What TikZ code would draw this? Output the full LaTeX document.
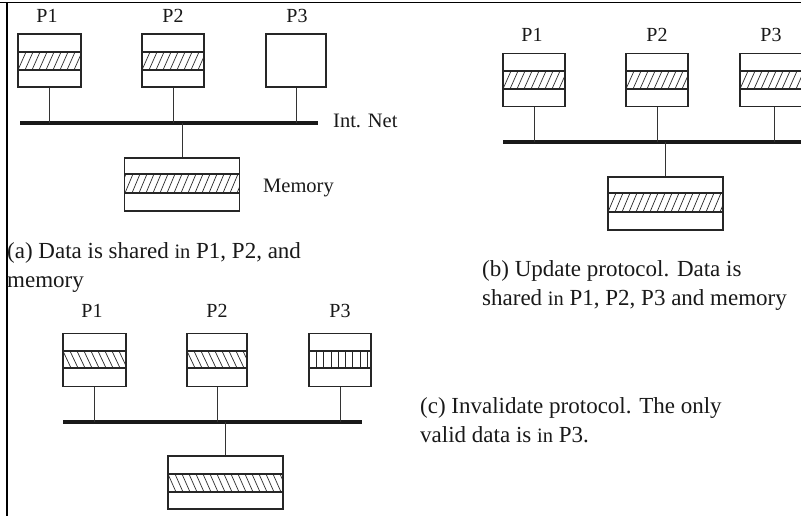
\documentclass[tikz,border=0pt]{standalone}
\usepackage{fontspec}
\setmainfont{Liberation Serif}
\newcommand\smallin{{\fontsize{20.5}{20.5}\selectfont in}}
\newcommand\hbNE[4]{% xl xr yt yb
  \begin{scope}
    \clip (#1,#3) rectangle (#2,#4);
    \foreach \k in {-14,-7,...,130} \draw[hatch] ({#1+\k},#4) -- ++(8,{-(#4-#3)});
  \end{scope}
  \draw[boxline] (#1,#3) -- (#2,#3) (#1,#4) -- (#2,#4);}
\newcommand\hbNW[4]{% xl xr yt yb
  \begin{scope}
    \clip (#1,#3) rectangle (#2,#4);
    \foreach \k in {-14,-7,...,130} \draw[hatch] ({#1+\k},#3) -- ++(8,{#4-#3});
  \end{scope}
  \draw[boxline] (#1,#3) -- (#2,#3) (#1,#4) -- (#2,#4);}
\newcommand\hbV[4]{% xl xr yt yb
  \begin{scope}
    \clip (#1,#3) rectangle (#2,#4);
    \foreach \k in {7.3,14.6,...,70} \draw[hatch] ({#1+\k},#3) -- ({#1+\k},#4);
  \end{scope}
  \draw[boxline] (#1,#3) -- (#2,#3) (#1,#4) -- (#2,#4);}
\tikzset{
  boxline/.style={draw=black!85, line width=1.2pt},
  pbox/.style={boxline, rectangle, inner sep=0pt, minimum width=62pt, minimum height=53pt},
  mbox/.style={boxline, rectangle, inner sep=0pt, minimum width=115pt, minimum height=53pt},
  hatch/.style={draw=black!85, line width=0.7pt},
  conn/.style={draw=black!80, line width=1pt},
  bus/.style={draw=black!90, line width=4pt},
  frame/.style={draw=black, line width=1.5pt},
  lbl/.style={anchor=base, inner sep=0pt, font=\fontsize{20}{24}\selectfont, text=black!90},
  captxt/.style={anchor=base west, inner sep=0pt, align=left, font=\fontsize{23}{29}\selectfont, text=black!90}
}
\begin{document}
\begin{tikzpicture}[x=1pt, y=-1pt]
\useasboundingbox (0,0) rectangle (801,516);
% frame lines
\coordinate (fTL) at (7,2.5);
\coordinate (fTR) at (801,2.5);
\coordinate (fT0) at (0,2.5);
\coordinate (fBL) at (7,516);
\draw[frame] (fT0) -- (fTR);
\draw[frame] (fTL) -- (fBL);

% ---------- (a) ----------
\node[pbox, minimum width=63pt] (aP1) at (49.5,60.5) {};
\node[pbox] (aP2) at (173,60.5) {};
\node[pbox, minimum width=60pt, line width=1.8pt] (aP3) at (296,60.5) {};
\hbNE{18}{81}{52}{70}
\hbNE{142}{204}{52}{70}
\node[lbl] (aL1) at (47,23) {P1};
\node[lbl] (aL2) at (173,23) {P2};
\node[lbl] (aL3) at (297,23) {P3};
\coordinate (aBusW) at (20,123);
\coordinate (aBusE) at (318,123);
\draw[bus] (aBusW) -- (aBusE);
\node[mbox] (aMem) at (182,184.5) {};
\hbNE{125}{239}{174}{193}
\draw[conn] (aP1.south) -- (aP1.south |- aBusW);
\draw[conn] (aP2.south) -- (aP2.south |- aBusW);
\draw[conn] (aP3.south) -- (aP3.south |- aBusW);
\draw[conn] (aMem.north) -- (aMem.north |- aBusW);
\node[anchor=base west, inner sep=0pt, font=\fontsize{20.5}{24}\selectfont, text=black!90] (aNet) at (333,128) {Int. Net};
\node[anchor=base west, inner sep=0pt, font=\fontsize{20.5}{24}\selectfont, text=black!90] (aMemL) at (263,193) {Memory};
\node[captxt] (capA) at (7,287) {(a) Data is shared \smallin{} P1, P2, and\\memory};

% ---------- (b) ----------
\node[pbox] (bP1) at (534,80) {};
\node[pbox] (bP2) at (657,80) {};
\node[pbox, minimum width=68pt] (bP3) at (774,80) {};
\hbNE{503}{565}{71}{89}
\hbNE{626}{688}{71}{89}
\hbNE{740}{808}{71}{89}
\node[lbl] (bL1) at (532,42) {P1};
\node[lbl] (bL2) at (657,42) {P2};
\node[lbl] (bL3) at (771,42) {P3};
\coordinate (bBusW) at (503,142);
\coordinate (bBusE) at (805,142);
\draw[bus] (bBusW) -- (bBusE);
\node[mbox] (bMem) at (665.5,203.5) {};
\hbNE{608}{723}{193}{212}
\draw[conn] (bP1.south) -- (bP1.south |- bBusW);
\draw[conn] (bP2.south) -- (bP2.south |- bBusW);
\draw[conn] (bP3.south) -- (bP3.south |- bBusW);
\draw[conn] (bMem.north) -- (bMem.north |- bBusW);
\node[captxt] (capB) at (482,305) {(b) Update protocol. Data is\\shared \smallin{} P1, P2, P3 and memory};

% ---------- (c) ----------
\node[pbox, minimum width=63pt] (cP1) at (94.5,360) {};
\node[pbox, minimum width=60pt] (cP2) at (217,360) {};
\node[pbox] (cP3) at (340,360) {};
\hbNW{63}{126}{351}{368}
\hbNW{187}{247}{351}{368}
\hbV{309}{371}{351}{368}
\node[lbl] (cL1) at (92,317) {P1};
\node[lbl] (cL2) at (217,317) {P2};
\node[lbl] (cL3) at (340,317) {P3};
\coordinate (cBusW) at (63,422);
\coordinate (cBusE) at (362,422);
\draw[bus] (cBusW) -- (cBusE);
\node[mbox] (cMem) at (225.5,482.5) {};
\hbNW{168}{283}{474}{492}
\draw[conn] (cP1.south) -- (cP1.south |- cBusW);
\draw[conn] (cP2.south) -- (cP2.south |- cBusW);
\draw[conn] (cP3.south) -- (cP3.south |- cBusW);
\draw[conn] (cMem.north) -- (cMem.north |- cBusW);
\node[captxt] (capC) at (420,442) {(c) Invalidate protocol. The only\\valid data is \smallin{} P3.};
\end{tikzpicture}
\end{document}
